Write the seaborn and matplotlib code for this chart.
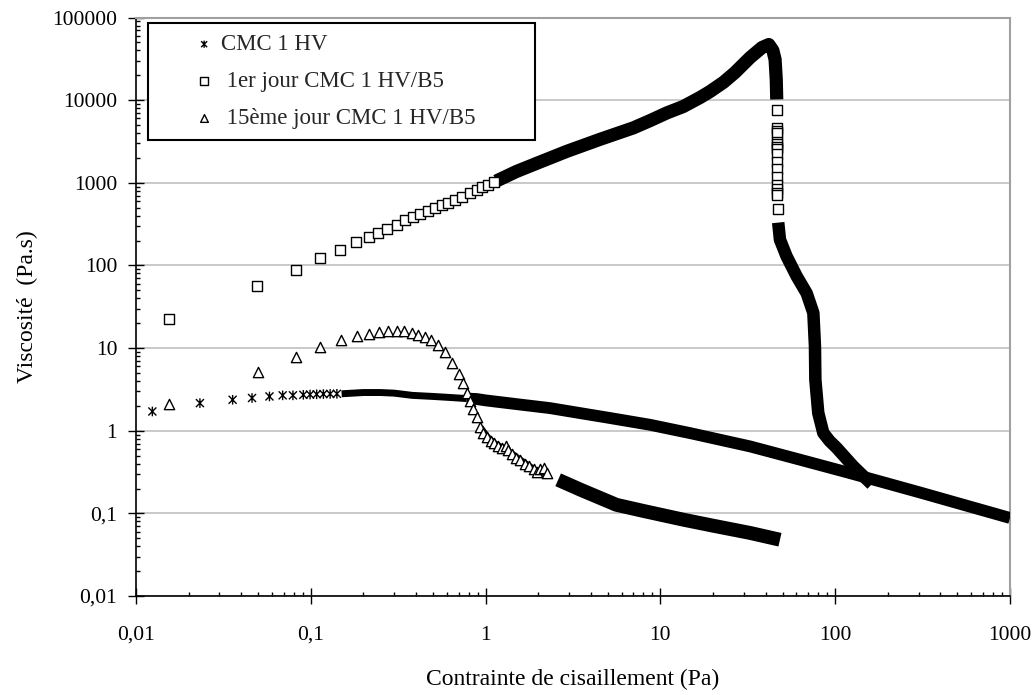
import numpy as np
import pandas as pd
import seaborn as sns
import matplotlib.pyplot as plt
from matplotlib.path import Path
from matplotlib.ticker import FixedLocator, LogLocator, NullFormatter

# ---- data (stress in Pa, viscosity in Pa.s) ----
# CMC 1 HV : separate points, then the dense run of points
cmc_x = [0.0124, 0.0232, 0.0357, 0.0461, 0.058, 0.069, 0.079, 0.0906, 0.099, 0.108, 0.118, 0.129, 0.141]
cmc_y = [1.71, 2.16, 2.37, 2.49, 2.6, 2.68, 2.68, 2.72, 2.74, 2.76, 2.78, 2.79, 2.8]
cmc_chain_x = [0.15, 0.2, 0.25, 0.3, 0.38, 0.5, 0.62, 0.78]
cmc_chain_y = [2.8, 2.9, 2.9, 2.85, 2.68, 2.6, 2.53, 2.45]
cmc_band_x = [0.78, 0.89, 1.0, 1.5, 2.33, 3.5, 5.0, 8.73, 15, 32.6, 63, 121.6, 300, 1000]
cmc_band_y = [2.45, 2.42, 2.33, 2.1, 1.88, 1.63, 1.44, 1.18, 0.93, 0.646, 0.446, 0.307, 0.181, 0.088]

# 1er jour CMC 1 HV/B5
d1_x = [0.0155, 0.0492, 0.082, 0.113, 0.147, 0.181, 0.216, 0.243, 0.274, 0.310, 0.346, 0.383,
        0.422, 0.470, 0.516, 0.56, 0.61, 0.667, 0.73, 0.81, 0.89, 0.95, 1.03, 1.12]
d1_y = [22.5, 57, 89, 122, 152, 190, 219, 246, 275, 312, 350, 388,
        424, 455, 495, 535, 573, 625, 675, 755, 827, 890, 940, 1010]
d1_band_x = [1.15, 1.5, 2.0, 2.91, 4.5, 7.0, 8.73, 10.9, 13.5, 16.9, 19.2, 23, 26.7, 32.6, 38.1,
             41.7, 44.0, 45.3, 46.0, 46.3]
d1_band_y = [1050, 1370, 1750, 2400, 3350, 4620, 5660, 7020, 8370, 10800, 12700, 16500, 21600,
             32800, 43300, 47100, 40000, 31000, 17800, 10200]
d1_drop_x = [46.4, 46.4, 46.4, 46.4, 46.4, 46.4, 46.4, 46.4, 46.4, 46.4, 46.4, 46.4, 46.4, 46.5,
             46.6, 46.7, 47.0]
d1_drop_y = [7690, 4660, 4280, 4050, 3150, 2980, 2740, 2590, 2260, 1810, 1450, 1160, 951, 851,
             761, 720, 483]
d1_low_x = [47.2, 48.3, 52.7, 60.2, 68.7, 75, 76.6, 77, 80, 85.5, 93, 102, 127, 162]
d1_low_y = [330, 205, 129, 74, 46, 26.6, 10.5, 4.14, 1.64, 0.94, 0.75, 0.62, 0.37, 0.225]

# 15ème jour CMC 1 HV/B5
d15_x = [0.0155, 0.0497, 0.0823, 0.113, 0.148, 0.183, 0.216, 0.247, 0.278, 0.310, 0.341, 0.377,
         0.412, 0.45, 0.49, 0.535, 0.585, 0.64, 0.70, 0.74, 0.78, 0.81, 0.85, 0.89, 0.93, 0.97,
         1.02, 1.07, 1.11, 1.17, 1.24, 1.30, 1.35, 1.42, 1.50, 1.58, 1.68, 1.78, 1.90, 1.97,
         2.05, 2.15, 2.25]
d15_y = [2.12, 5.18, 7.8, 10.2, 12.4, 13.9, 14.9, 15.5, 15.9, 15.9, 15.9, 15.2,
         14.5, 13.6, 12.4, 11.0, 8.9, 6.6, 4.9, 3.8, 2.9, 2.3, 1.85, 1.45, 1.1, 0.95,
         0.84, 0.76, 0.71, 0.66, 0.62, 0.65, 0.58, 0.52, 0.47, 0.44, 0.40, 0.37, 0.34, 0.32,
         0.34, 0.35, 0.31]
d15_chain_x = [0.93, 1.02, 1.11, 1.24, 1.42, 1.58, 1.78, 1.97, 2.25]
d15_chain_y = [1.1, 0.84, 0.71, 0.62, 0.52, 0.44, 0.37, 0.32, 0.31]
d15_band_x = [2.6, 3.5, 5.6, 8.0, 13.5, 20, 32.6, 48.3]
d15_band_y = [0.255, 0.193, 0.127, 0.107, 0.084, 0.071, 0.058, 0.048]

labels = ["CMC 1 HV", " 1er jour CMC 1 HV/B5", " 15ème jour CMC 1 HV/B5"]
x_ticks = [0.01, 0.1, 1, 10, 100, 1000]
x_ticklabels = ["0,01", "0,1", "1", "10", "100", "1000"]
y_ticks = [0.01, 0.1, 1, 10, 100, 1000, 10000, 100000]
y_ticklabels = ["0,01", "0,1", "1", "10", "100", "1000", "10000", "100000"]

sns.set_theme(style="white")
plt.rcParams['font.family'] = ['Liberation Serif', 'DejaVu Serif']

# star marker like the spreadsheet one: an x with a vertical bar
star = Path([(-1, -1), (1, 1), (-1, 1), (1, -1), (0, -1.2), (0, 1.2)],
            [Path.MOVETO, Path.LINETO] * 3)

fig = plt.figure(figsize=(10.36, 6.95), dpi=100)
ax = fig.add_axes([0.1313, 0.1424, 0.8436, 0.8324])
ax.set_xscale("log")
ax.set_yscale("log")

# CMC 1 HV
sns.scatterplot(x=cmc_x, y=cmc_y, ax=ax, marker=star, s=48, facecolor="none",
                edgecolor="black", linewidth=1, label=labels[0], zorder=3)
sns.lineplot(x=cmc_chain_x, y=cmc_chain_y, ax=ax, sort=False, estimator=None, color="black",
             linewidth=5, solid_capstyle="butt", zorder=3)
sns.lineplot(x=cmc_band_x, y=cmc_band_y, ax=ax, sort=False, estimator=None, color="black",
             linewidth=8.5, solid_capstyle="butt", solid_joinstyle="round", zorder=3)

# 1er jour
sns.lineplot(x=d1_band_x, y=d1_band_y, ax=ax, sort=False, estimator=None, color="black",
             linewidth=9.5, solid_capstyle="butt", solid_joinstyle="round", zorder=4)
sns.lineplot(x=d1_low_x, y=d1_low_y, ax=ax, sort=False, estimator=None, color="black",
             linewidth=9, solid_capstyle="butt", solid_joinstyle="round", zorder=4)
sns.scatterplot(x=d1_x, y=d1_y, ax=ax, marker="s", s=46, facecolor="white",
                edgecolor="black", linewidth=1, label=labels[1], zorder=4)
sns.scatterplot(x=d1_drop_x, y=d1_drop_y, ax=ax, marker="s", s=46, facecolor="white",
                edgecolor="black", linewidth=1, zorder=4)

# 15ème jour
sns.lineplot(x=d15_chain_x, y=d15_chain_y, ax=ax, sort=False, estimator=None, color="black",
             linewidth=5, solid_capstyle="butt", solid_joinstyle="round", zorder=5)
sns.lineplot(x=d15_band_x, y=d15_band_y, ax=ax, sort=False, estimator=None, color="black",
             linewidth=10, solid_capstyle="butt", solid_joinstyle="round", zorder=5)
sns.scatterplot(x=d15_x, y=d15_y, ax=ax, marker="^", s=55, facecolor="white",
                edgecolor="black", linewidth=1, label=labels[2], zorder=5)

ax.set_xlim(0.01, 1000)
ax.set_ylim(0.01, 100000)

ax.xaxis.set_major_locator(FixedLocator(x_ticks))
ax.set_xticklabels(x_ticklabels)
ax.yaxis.set_major_locator(FixedLocator(y_ticks))
ax.set_yticklabels(y_ticklabels)
for axis in (ax.xaxis, ax.yaxis):
    axis.set_minor_locator(LogLocator(base=10, subs=np.arange(2, 10), numticks=100))
    axis.set_minor_formatter(NullFormatter())

ax.tick_params(which="major", direction="inout", length=11, width=1, colors="black",
               labelsize=15.5)
ax.tick_params(axis="x", which="major", pad=16)
ax.tick_params(axis="y", which="major", pad=8)
ax.tick_params(which="minor", direction="in", length=3, width=1, colors="black")
ax.tick_params(bottom=True, left=True, which="both")

ax.yaxis.grid(True, which="major", color="#c0c0c0", linewidth=1.2, zorder=0)
ax.xaxis.grid(False)
ax.set_axisbelow(True)

for side in ("left", "bottom"):
    ax.spines[side].set_color("black")
    ax.spines[side].set_linewidth(1.2)
for side in ("top", "right"):
    ax.spines[side].set_color("#a0a0a0")
    ax.spines[side].set_linewidth(1.5)

ax.set_xlabel("Contrainte de cisaillement (Pa)", fontsize=17, labelpad=17, color="black")
ax.set_ylabel("Viscosité  (Pa.s)", fontsize=17, labelpad=10, color="black")

handles, labs = ax.get_legend_handles_labels()
leg = ax.legend(handles, labs, loc="upper left", mode="expand",
                bbox_to_anchor=(0.0137, 0.7934, 0.4428, 0.1976), borderaxespad=0,
                fontsize=16.5, frameon=True, fancybox=False, framealpha=1,
                edgecolor="black", borderpad=0.5, handlelength=3.9, handletextpad=-1.2,
                labelspacing=0.69, markerscale=0.75, scatterpoints=1)
leg.get_frame().set_linewidth(1.5)
leg.set_zorder(10)

fig.savefig("out.png", dpi=100)
